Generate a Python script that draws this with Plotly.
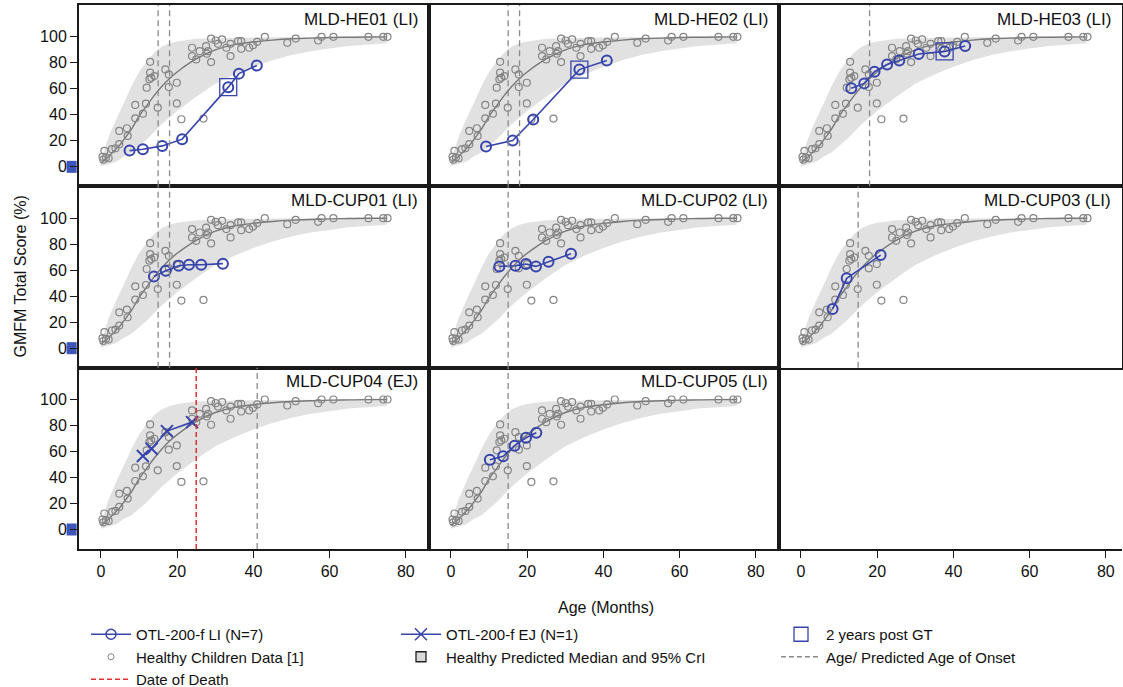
import plotly.graph_objects as go
from plotly.subplots import make_subplots

# ---------------- data ----------------
# Healthy children reference data (age in months, GMFM total %)
healthy_age = [0.9, 0.4, 1.3, 2.0, 0.6, 2.9, 3.8, 4.8, 4.8, 6.8, 7.0, 9.0, 9.0, 11.0, 11.8,
               12.0, 12.9, 12.9, 13.2, 12.7, 14.0, 14.9, 16.9, 17.8, 17.8, 19.9, 19.9, 21.1,
               23.9, 23.9, 25.0, 25.9, 27.6, 28.1, 27.8, 26.9, 28.9, 28.9, 30.1, 30.7, 31.8,
               32.9, 34.0, 34.0, 36.0, 36.8, 36.8, 38.9, 39.9, 41.0, 43.0, 48.9, 51.1, 57.0,
               57.9, 61.0, 70.2, 74.1, 75.2]
healthy_score = [12.3, 7.7, 7.2, 6.6, 5.5, 13.6, 14.3, 17.4, 27.6, 29.7, 23.8, 47.6, 37.3, 40.9, 48.6,
                 60.9, 80.8, 72.4, 68.5, 67.3, 69.8, 45.5, 74.9, 71.1, 61.4, 64.7, 48.8, 36.6,
                 91.6, 85.2, 82.6, 89.0, 92.8, 89.0, 87.0, 37.1, 80.6, 98.7, 97.2, 94.6, 98.0,
                 91.6, 85.2, 94.6, 96.7, 96.7, 90.8, 91.6, 93.6, 96.2, 100.0, 95.4, 98.7, 97.2,
                 100.0, 100.0, 100.0, 100.0, 100.0]

# Healthy predicted median and 95% CrI
band_age = [0, 1, 2, 3, 4, 5, 6, 8, 10, 12, 14, 16, 18, 20, 25, 30, 35, 40, 45, 50, 55, 60, 65, 70, 75]
band_median = [3, 5.5, 8, 11, 14, 17, 21, 29, 39, 47, 55, 62, 68, 73, 83, 90, 94, 96, 97.5, 98.5, 99,
               99.5, 99.7, 99.9, 100]
band_upper = [5, 15, 23, 30, 37, 43, 49, 62, 73, 81, 88, 92.5, 95, 96.5, 98.5, 99, 99.3, 99.5, 99.7,
              99.8, 99.9, 100, 100, 100, 100]
band_lower = [0.5, 1, 2, 3, 4, 6, 8, 11, 16, 21, 27, 33, 38, 43, 54, 64, 71, 77, 82, 86, 89, 91, 93,
              94, 95]

panel_titles = ["MLD-HE01 (LI)", "MLD-HE02 (LI)", "MLD-HE03 (LI)",
                "MLD-CUP01 (LI)", "MLD-CUP02 (LI)", "MLD-CUP03 (LI)",
                "MLD-CUP04 (EJ)", "MLD-CUP05 (LI)"]
panel_type = ["LI", "LI", "LI", "LI", "LI", "LI", "EJ", "LI"]

patient_age = [
    [7.5, 11.0, 16.1, 21.3, 33.4, 36.2, 40.9],
    [9.2, 16.2, 21.6, 33.7, 40.9],
    [13.2, 16.6, 19.3, 22.6, 25.8, 30.9, 37.7, 43.1],
    [13.9, 17.0, 20.4, 23.1, 26.3, 32.0],
    [12.7, 16.9, 19.7, 22.3, 25.6, 31.5],
    [8.3, 12.0, 20.9],
    [11.0, 13.3, 17.3, 23.9],
    [10.2, 13.7, 16.7, 19.7, 22.4],
]
patient_score = [
    [12.5, 13.5, 16.1, 21.3, 61.3, 71.7, 77.9],
    [15.6, 20.3, 36.4, 74.8, 81.8],
    [60.5, 64.2, 73.2, 78.7, 81.8, 86.8, 88.8, 93.0],
    [55.2, 59.6, 63.4, 64.2, 64.2, 65.0],
    [62.9, 63.4, 64.7, 62.9, 66.5, 72.6],
    [30.2, 53.7, 71.6],
    [56.5, 62.1, 75.7, 82.6],
    [53.7, 56.3, 64.5, 70.6, 74.4],
]
# index of the "2 years post GT" visit within each patient's series (None = not reached)
two_year_index = [4, 3, 6, None, None, None, None, None]

onset_age = [[15, 18], [15, 18], [18], [15, 18], [15], [15], [41], [15]]
death_age = [None, None, None, None, None, None, 25, None]

# small blue baseline flag drawn at the y-axis of the left column
flag_age = -7.7
flag_score = 0

y_ticks = [0, 20, 40, 60, 80, 100]
x_ticks = [0, 20, 40, 60, 80]

# ---------------- style ----------------
BLUE = "#3744ab"
GRAY_PT = "#858585"
GRAY_LINE = "#777777"
BAND = "#e1e1e1"
FONT = "Arial"

col_px = [350, 350, 343]
plot_w = sum(col_px)
row_px = 544 / 3
px_per_month = 3.81
x_lo = -5.77
y_range = [-15, 124.5]

fig = make_subplots(rows=3, cols=3, horizontal_spacing=0, vertical_spacing=0,
                    column_widths=col_px)

for i in range(9):
    r, c = i // 3 + 1, i % 3 + 1
    xr = [x_lo, x_lo + col_px[c - 1] / px_per_month]
    fig.update_xaxes(row=r, col=c, range=xr, tickvals=x_ticks, showgrid=False, zeroline=False,
                     automargin=False,
                     showline=True, mirror=(i < 8), linecolor="#1a1a1a", linewidth=2,
                     ticks="outside" if r == 3 else "", ticklen=7, tickcolor="#1a1a1a",
                     showticklabels=(r == 3), tickfont=dict(family=FONT, size=16, color="#111"))
    fig.update_yaxes(row=r, col=c, range=y_range, tickvals=y_ticks, showgrid=False, zeroline=False,
                     automargin=False,
                     showline=True, mirror=(i < 8), linecolor="#1a1a1a", linewidth=2,
                     ticks="outside" if c == 1 else "", ticklen=7, tickcolor="#1a1a1a",
                     showticklabels=(c == 1), tickfont=dict(family=FONT, size=16, color="#111"))

for i, title in enumerate(panel_titles):
    r, c = i // 3 + 1, i % 3 + 1
    xr = [x_lo, x_lo + col_px[c - 1] / px_per_month]
    xref = "x domain" if i == 0 else f"x{i + 1} domain"
    yref = "y domain" if i == 0 else f"y{i + 1} domain"
    # band
    fig.add_trace(go.Scatter(x=band_age + band_age[::-1], y=band_upper + band_lower[::-1],
                             fill="toself", fillcolor=BAND, line=dict(width=0), mode="lines",
                             hoverinfo="skip", showlegend=False), row=r, col=c)
    # median
    fig.add_trace(go.Scatter(x=band_age, y=band_median, mode="lines",
                             line=dict(color=GRAY_LINE, width=1.4, shape="spline"),
                             showlegend=False), row=r, col=c)
    # healthy data
    fig.add_trace(go.Scatter(x=healthy_age, y=healthy_score, mode="markers",
                             marker=dict(symbol="circle-open", size=7, color=GRAY_PT,
                                         line=dict(width=1.2, color=GRAY_PT)),
                             showlegend=False), row=r, col=c)
    # onset lines
    for a in onset_age[i]:
        fig.add_vline(x=a, row=r, col=c, line=dict(color="#8a8a8a", width=1.3, dash="6px,4px"))
    if death_age[i] is not None:
        fig.add_vline(x=death_age[i], row=r, col=c, line=dict(color="#e03030", width=1.5, dash="5px,3px"))
    # patient series
    if panel_type[i] == "LI":
        sym, sz = "circle-open", 10
    else:
        sym, sz = "x-thin-open", 12
    fig.add_trace(go.Scatter(x=patient_age[i], y=patient_score[i], mode="lines+markers",
                             line=dict(color=BLUE, width=1.6),
                             marker=dict(symbol=sym, size=sz, color=BLUE, line=dict(width=2, color=BLUE)),
                             showlegend=False), row=r, col=c)
    k = two_year_index[i]
    if k is not None:
        fig.add_trace(go.Scatter(x=[patient_age[i][k]], y=[patient_score[i][k]], mode="markers",
                                 marker=dict(symbol="square-open", size=17, color=BLUE,
                                             line=dict(width=1.3, color=BLUE)),
                                 showlegend=False), row=r, col=c)
    if c == 1:
        fx = (flag_age - xr[0]) / (xr[1] - xr[0])
        fy = (flag_score - y_range[0]) / (y_range[1] - y_range[0])
        hx, hy = 5 / col_px[0], 6 / row_px
        fig.add_shape(type="rect", xref=xref, yref=yref, x0=fx - hx, x1=fx + hx,
                      y0=fy - hy, y1=fy + hy, fillcolor="#3d55b8", line=dict(width=0), layer="below")
    # title
    fig.add_annotation(text=title, xref=xref, yref=yref, x=0.975, y=0.985, xanchor="right",
                       yanchor="top", showarrow=False, font=dict(family=FONT, size=17, color="#111"))

# legend-only entries: (legend column, entry)
leg = [
    ("legend", dict(name="OTL-200-f LI (N=7)", mode="lines+markers", line=dict(color=BLUE, width=1.6),
         marker=dict(symbol="circle-open", size=10, color=BLUE, line=dict(width=1.5, color=BLUE)))),
    ("legend", dict(name="Healthy Children Data [1]", mode="markers",
         marker=dict(symbol="circle-open", size=6, color=GRAY_PT, line=dict(width=1, color=GRAY_PT)))),
    ("legend", dict(name="Date of Death", mode="lines", line=dict(color="#e03030", width=1.5, dash="5px,3px"))),
    ("legend2", dict(name="OTL-200-f EJ (N=1)", mode="lines+markers", line=dict(color=BLUE, width=1.6),
         marker=dict(symbol="x-thin-open", size=12, color=BLUE, line=dict(width=1.5, color=BLUE)))),
    ("legend2", dict(name="Healthy Predicted Median and 95% CrI", mode="markers",
         marker=dict(symbol="square", size=10, color="#d8d8d8", line=dict(width=1.3, color="#222")))),
    ("legend3", dict(name="2 years post GT", mode="markers",
         marker=dict(symbol="square-open", size=14, color=BLUE, line=dict(width=1.3, color=BLUE)))),
    ("legend3", dict(name="Age/ Predicted Age of Onset", mode="lines",
         line=dict(color="#8a8a8a", width=1.3, dash="5px,3px"))),
]
for k, (lg, d) in enumerate(leg):
    fig.add_trace(go.Scatter(x=[None], y=[None], showlegend=True, legend=lg, legendrank=k + 1, **d),
                  row=3, col=3)

fig.add_annotation(text="Age (Months)", xref="paper", yref="paper", x=0.505, y=-0.088,
                   xanchor="center", yanchor="top", showarrow=False,
                   font=dict(family=FONT, size=16, color="#111"))
fig.add_annotation(text="GMFM Total Score (%)", xref="paper", yref="paper", x=-0.057, y=0.5,
                   xanchor="center", yanchor="middle", textangle=-90, showarrow=False,
                   font=dict(family=FONT, size=16, color="#111"))

legend_style = dict(orientation="v", xanchor="left", y=-0.1268, yanchor="top", traceorder="normal",
                    font=dict(family=FONT, size=15, color="#111"), itemwidth=40,
                    bgcolor="rgba(0,0,0,0)", tracegroupgap=0)
legend_left_px = [86, 396, 776]

fig.update_layout(
    width=1123, height=687,
    margin=dict(l=79, r=1, t=5, b=138, autoexpand=False),
    plot_bgcolor="white", paper_bgcolor="white",
    font=dict(family=FONT, size=15, color="#111"),
    legend=dict(x=(legend_left_px[0] - 79) / plot_w, **legend_style),
    legend2=dict(x=(legend_left_px[1] - 79) / plot_w, **legend_style),
    legend3=dict(x=(legend_left_px[2] - 79) / plot_w, **legend_style),
)

fig.write_html("out.html", config={"displayModeBar": False},
               post_script="document.body.style.margin='0px';document.body.style.overflow='hidden';")
